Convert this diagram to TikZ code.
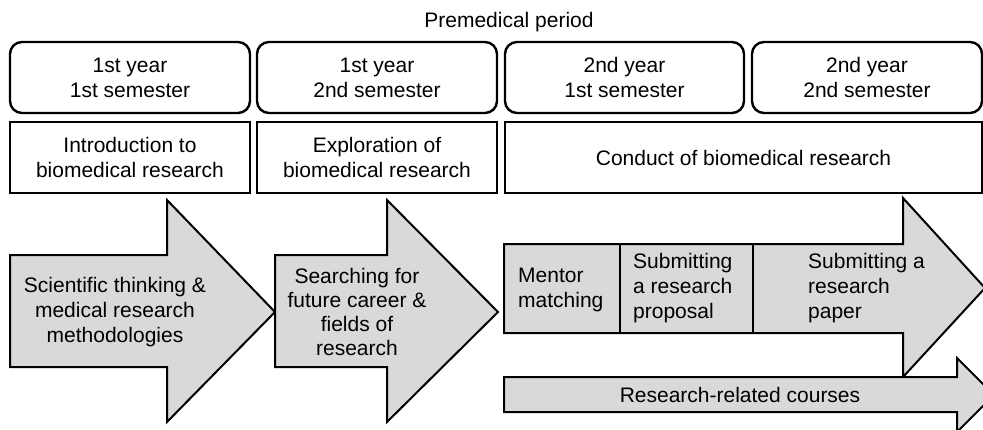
\documentclass[tikz,border=0pt]{standalone}
\usepackage{fontspec}
\setmainfont{Liberation Sans}
\usetikzlibrary{positioning}
\definecolor{arrowgray}{RGB}{217,217,217}

\begin{document}
\begin{tikzpicture}[
  x=1pt, y=-1pt,
  every node/.style={font=\fontsize{21}{25}\selectfont, align=center, inner sep=0pt},
  term/.style={draw, line width=2.4pt, rounded corners=12pt, minimum height=71pt},
  stage/.style={draw, line width=2.4pt, minimum height=71pt},
  flow/.style={draw, line width=2pt, fill=arrowgray, line join=miter},
  part/.style={draw, line width=1.1pt}
]
  \useasboundingbox (0,0) rectangle (983,429);
  \clip (0,0) rectangle (983,429);

  \node (period) at (509,22) {Premedical period};

  % semesters
  \node[term, minimum width=240pt] (t1) at (130,77.5) {1st year\\1st semester};
  \node[term, minimum width=240pt] (t2) at (377,77.5) {1st year\\2nd semester};
  \node[term, minimum width=239pt] (t3) at (624.5,77.5) {2nd year\\1st semester};
  \node[term, minimum width=230pt] (t4) at (867,77.5) {2nd year\\2nd semester};

  % stages
  \node[stage, minimum width=240pt] (s1) at (130,157.5) {Introduction to\\biomedical research};
  \node[stage, minimum width=240pt] (s2) at (377,157.5) {Exploration of\\biomedical research};
  \node[stage, minimum width=477pt] (s3) at (743.5,157.5) {Conduct of biomedical research};

  % block arrows
  \draw[flow] (10,255) -- (167,255) -- (167,200) -- (275,312) -- (167,422)
    -- (167,367) -- (10,367) -- cycle;
  \draw[flow] (275,255) -- (387,255) -- (387,200) -- (498,312) -- (387,422)
    -- (387,367) -- (275,367) -- cycle;
  \draw[flow] (504,244) -- (903,244) -- (903,198) -- (985,288) -- (903,377)
    -- (903,333) -- (504,333) -- cycle;
  \draw[flow] (504,377) -- (957,377) -- (957,358) -- (994,395) -- (957,432)
    -- (957,412) -- (504,412) -- cycle;
  \draw[part] (620,244) -- (620,333);
  \draw[part] (753,244) -- (753,333);

  \node (a1) at (115,312) {Scientific thinking \&\\medical research\\methodologies};
  \node[font=\fontsize{21}{24}\selectfont] (a2) at (357,312) {Searching for\\future career \&\\fields of\\research};
  \node[align=left, anchor=west] (mentor) at (518,290) {Mentor\\matching};
  \node[align=left, anchor=west] (proposal) at (633,288) {Submitting\\a research\\proposal};
  \node[align=left, anchor=west] (paper) at (808,288) {Submitting a\\research\\paper};
  \node (courses) at (740,395) {Research-related courses};
\end{tikzpicture}
\end{document}
